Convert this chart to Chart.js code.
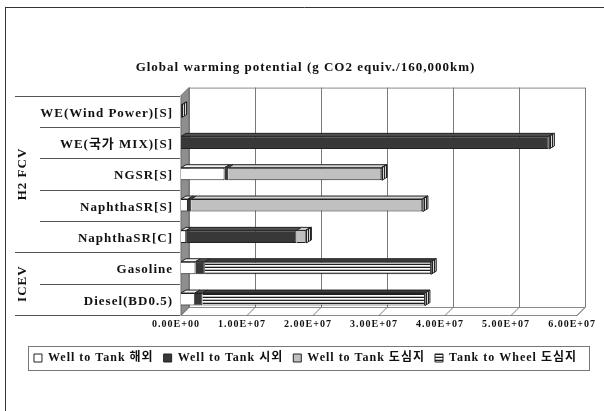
<!DOCTYPE html>
<html>
<head>
<meta charset="utf-8">
<script src="https://cdn.jsdelivr.net/npm/chart.js@4.4.1/dist/chart.umd.min.js"></script>
<style>
  html, body { margin: 0; padding: 0; background: #fff; }
  #wrap { position: relative; width: 604px; height: 411px; }
</style>
</head>
<body>
<div id="wrap"><canvas id="gwp"></canvas></div>
<script>
'use strict'

const categories = ['WE(Wind Power)[S]', 'WE(국가 MIX)[S]', 'NGSR[S]', 'NaphthaSR[S]', 'NaphthaSR[C]', 'Gasoline', 'Diesel(BD0.5)'];
const groupNames = ['H2 FCV', 'ICEV'];
const groupSizes = [5, 2];

const seriesNames = ['Well to Tank 해외', 'Well to Tank 시외', 'Well to Tank 도심지', 'Tank to Wheel 도심지'];
const wttOverseas = [0, 0, 0.66e7, 0.105e7, 0.08e7, 0.22e7, 0.21e7];
const wttSuburb   = [0, 5.57e7, 0.055e7, 0.05e7, 1.67e7, 0.14e7, 0.115e7];
const wttCity     = [0, 0, 2.32e7, 3.5e7, 0.14e7, 0, 0];
const ttwCity     = [0.01e7, 0.01e7, 0.01e7, 0.01e7, 0.01e7, 3.43e7, 3.37e7];

const axisMax = 6e7;
const axisStep = 1e7;

const serif = '"Liberation Serif", "Noto Sans CJK KR", serif';

// stripe fills for the Tank to Wheel bars
function stripes(colors, vertical) {
  const c = document.createElement('canvas');
  c.width = vertical ? colors.length : 1;
  c.height = vertical ? 1 : colors.length;
  const g = c.getContext('2d');
  colors.forEach((col, i) => {
    g.fillStyle = col;
    if (vertical) g.fillRect(i, 0, 1, 1); else g.fillRect(0, i, 1, 1);
  });
  return g.createPattern(c, 'repeat');
}
const hatchH = stripes(['#1e1e1e', '#ffffff', '#bdbdbd']);
const hatchV = stripes(['#222222', '#d8d8d8'], true);

const fills = ['#ffffff', '#383838', '#c0c0c0', hatchH];
const topFills = ['#f2f2f2', '#505050', '#d4d4d4', '#3a3a3a'];
const sideFills = ['#e0e0e0', '#2a2a2a', '#a8a8a8', hatchV];

const D = 8;            // wall depth
const BX = 5, BY = 3;   // bar depth

function sci(v) {
  if (v === 0) return '0.00E+00';
  const e = Math.floor(Math.log10(v));
  const m = v / Math.pow(10, e);
  return m.toFixed(2) + 'E+' + String(e).padStart(2, '0');
}

function line(ctx, x1, y1, x2, y2) {
  ctx.beginPath();
  ctx.moveTo(x1, y1);
  ctx.lineTo(x2, y2);
  ctx.stroke();
}

function poly(ctx, pts) {
  ctx.beginPath();
  ctx.moveTo(pts[0][0], pts[0][1]);
  pts.slice(1).forEach(p => ctx.lineTo(p[0], p[1]));
  ctx.closePath();
  ctx.fill();
  ctx.stroke();
}

// the old chart spaces its letters out a bit
const spacing = {
  id: 'spacing',
  beforeLayout(chart) { chart.ctx.letterSpacing = '1px' },
  beforeDraw(chart) { chart.ctx.letterSpacing = '1px' }
};

const scenery = {
  id: 'scenery',
  beforeDatasetsDraw(chart) {
    const {ctx, chartArea: a} = chart;
    const x = chart.scales.x;
    ctx.save();
    ctx.lineWidth = 1;
    // side wall
    ctx.fillStyle = '#8e8e8e';
    ctx.strokeStyle = '#6a6a6a';
    poly(ctx, [[a.left, a.top], [a.left + D, a.top - D], [a.left + D, a.bottom - D], [a.left, a.bottom]]);
    // back wall edges and grid
    ctx.strokeStyle = '#8a8a8a';
    line(ctx, a.left + D, a.top - D + 0.5, a.right + D, a.top - D + 0.5);
    line(ctx, a.left + D, a.bottom - D + 0.5, a.right + D, a.bottom - D + 0.5);
    line(ctx, a.left, a.bottom + 0.5, a.right, a.bottom + 0.5);
    line(ctx, a.right, a.bottom + 0.5, a.right + D, a.bottom - D + 0.5);
    ctx.strokeStyle = '#7a7a7a';
    x.ticks.forEach(t => {
      const px = Math.round(x.getPixelForValue(t.value)) + D + 0.5;
      line(ctx, px, a.top - D, px, a.bottom - D);
      line(ctx, px, a.bottom - D, px - D - 1, a.bottom + 1);
    });
    ctx.restore();
  },
  afterDatasetsDraw(chart) {
    const ctx = chart.ctx;
    const metas = chart.getSortedVisibleDatasetMetas();
    ctx.save();
    ctx.lineWidth = 1;
    ctx.strokeStyle = '#222';
    categories.forEach((_, i) => {
      let last = null;
      metas.forEach(m => {
        if (!chart.data.datasets[m.index].data[i]) return;
        const p = m.data[i].getProps(['x', 'y', 'base', 'height'], true);
        const top = p.y - p.height / 2;
        ctx.fillStyle = topFills[m.index];
        poly(ctx, [[p.base, top], [p.base + BX, top - BY], [p.x + BX, top - BY], [p.x, top]]);
        last = {x: p.x, top: top, bottom: p.y + p.height / 2, k: m.index};
      });
      if (last) {
        ctx.fillStyle = sideFills[last.k];
        poly(ctx, [[last.x, last.top], [last.x + BX, last.top - BY], [last.x + BX, last.bottom - BY], [last.x, last.bottom]]);
      }
    });
    ctx.restore();
  },
  afterDraw(chart) {
    const {ctx, chartArea: a} = chart;
    const y = chart.scales.y;
    ctx.save();
    ctx.lineWidth = 1;
    ctx.strokeStyle = '#555';
    // row separators in the label area
    const edges = [a.top];
    for (let i = 0; i < categories.length - 1; i++) {
      edges.push((y.getPixelForValue(i) + y.getPixelForValue(i + 1)) / 2);
    }
    edges.push(a.bottom);
    const groupEdges = [0];
    groupSizes.forEach(n => groupEdges.push(groupEdges[groupEdges.length - 1] + n));
    edges.forEach((e, i) => {
      const x0 = groupEdges.includes(i) ? 15 : 40;
      line(ctx, x0, Math.round(e) + 0.5, a.left - 1, Math.round(e) + 0.5);
    });
    // group labels
    ctx.fillStyle = '#111';
    ctx.font = 'bold 13px ' + serif;
    ctx.textAlign = 'center';
    ctx.textBaseline = 'middle';
    groupNames.forEach((name, g) => {
      const cy = (edges[groupEdges[g]] + edges[groupEdges[g + 1]]) / 2;
      ctx.save();
      ctx.translate(23, cy);
      ctx.rotate(-Math.PI / 2);
      ctx.fillText(name, 0, 0);
      ctx.restore();
    });
    // legend frame
    const boxes = chart.legend.legendHitBoxes;
    if (boxes && boxes.length) {
      const l = Math.min(...boxes.map(b => b.left)) - 6;
      const r = Math.max(...boxes.map(b => b.left + b.width)) + 12;
      const t = Math.min(...boxes.map(b => b.top)) - 6;
      const b2 = Math.max(...boxes.map(b => b.top + b.height)) + 6;
      ctx.strokeStyle = '#777';
      ctx.strokeRect(Math.round(l) + 0.5, Math.round(t) + 0.5, Math.round(r - l), Math.round(b2 - t));
    }
    // outer frame
    ctx.strokeStyle = '#333';
    line(ctx, 5.5, 7, 5.5, chart.height);
    line(ctx, 5, 7.5, chart.width, 7.5);
    ctx.restore();
  }
};

const seriesData = [wttOverseas, wttSuburb, wttCity, ttwCity];

new Chart(document.getElementById('gwp'), {
  type: 'bar',
  data: {
    labels: categories,
    datasets: seriesNames.map((name, k) => ({
      label: name,
      data: seriesData[k],
      backgroundColor: fills[k],
      borderColor: '#222',
      borderWidth: 1,
      barPercentage: 0.5,
      categoryPercentage: 0.8
    }))
  },
  options: {
    indexAxis: 'y',
    responsive: true,
    maintainAspectRatio: false,
    animation: false,
    layout: { padding: { left: 7, right: 0, top: 0, bottom: 37 } },
    plugins: {
      title: {
        display: true,
        text: 'Global warming potential (g CO2 equiv./160,000km)',
        color: '#111',
        font: { family: serif, size: 13, weight: 'bold' },
        padding: { top: 60, bottom: 20 }
      },
      legend: {
        position: 'bottom',
        labels: {
          boxWidth: 8,
          boxHeight: 8,
          padding: 10,
          color: '#111',
          font: { family: serif, size: 12, weight: 'bold' }
        }
      },
      tooltip: { enabled: false }
    },
    scales: {
      x: {
        stacked: true,
        min: 0,
        max: axisMax,
        grid: { display: false, drawTicks: false },
        border: { display: false },
        ticks: {
          stepSize: axisStep,
          padding: 3,
          labelOffset: -5,
          maxRotation: 0,
          autoSkip: false,
          color: '#111',
          font: { family: serif, size: 10, weight: 'bold' },
          callback: v => sci(v)
        },
        afterFit: s => { s.height = 27 }
      },
      y: {
        stacked: true,
        grid: { display: false, drawTicks: false },
        border: { display: false },
        ticks: {
          padding: 8,
          labelOffset: 2,
          color: '#111',
          font: { family: serif, size: 13, weight: 'bold' }
        },
        afterFit: s => { s.width = 174 }
      },
      yEdge: {
        type: 'category',
        position: 'right',
        grid: { display: false, drawTicks: false },
        border: { display: false },
        ticks: { display: false },
        afterFit: s => { s.width = 25 }
      }
    }
  },
  plugins: [spacing, scenery]
});
</script>
</body>
</html>
